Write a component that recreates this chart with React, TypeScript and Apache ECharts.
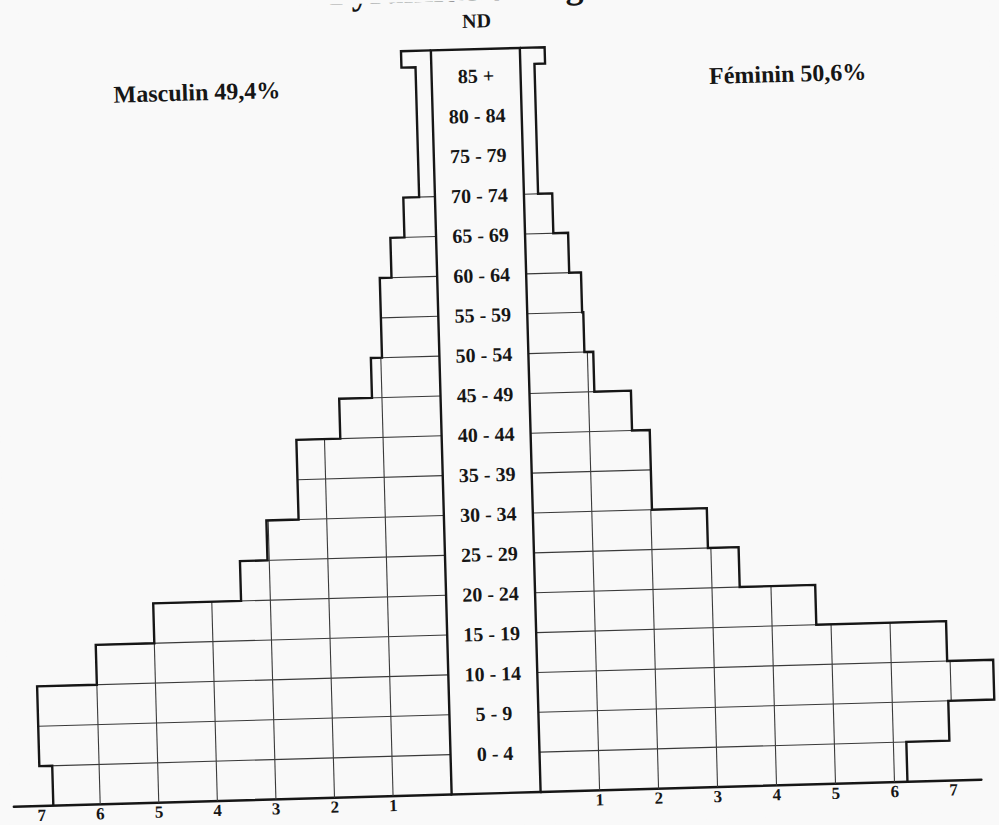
import React, { useEffect, useRef } from "react";
import * as echarts from "echarts";

// ---------- data (% of population) ----------
const ageGroups = [
  "0 - 4", "5 - 9", "10 - 14", "15 - 19", "20 - 24", "25 - 29", "30 - 34",
  "35 - 39", "40 - 44", "45 - 49", "50 - 54", "55 - 59", "60 - 64",
  "65 - 69", "70 - 74", "75 - 79", "80 - 84", "85 +",
];
const maleShare = [
  6.8, 7.02, 7.02, 6.0, 5.0, 3.5, 3.03, 2.48, 2.48, 1.73, 1.17, 0.98, 0.98,
  0.78, 0.54, 0.27, 0.27, 0.27,
];
const femaleShare = [
  6.22, 6.95, 7.73, 6.95, 4.75, 3.47, 2.95, 2.02, 2.02, 1.72, 1.1, 0.95, 0.93,
  0.73, 0.48, 0.24, 0.24, 0.24,
];
const capShare = [0.51, 0.42]; // [male, female] top cap of the pyramid
const tickValues = [1, 2, 3, 4, 5, 6, 7];
const titleText = "Pyramide des âges";
const regionText = "ND";
const sideTitles = ["Masculin 49,4%", "Féminin 50,6%"];

// ---------- layout ----------
const W = 999;
const H = 825;
const AXIS_Y = 793;
const ROW_H = 39.87;
const Y_MAX = 19;
const GRID_TOP = AXIS_Y - Y_MAX * ROW_H;
const LEFT_ZERO = 441;
const RIGHT_ZERO = 530;
const BAND_W = RIGHT_ZERO - LEFT_ZERO;
const UNIT = 59;
const SIDE_W = 441;
const SIDE_MAX = SIDE_W / UNIT;
const HAT_BASE = 18.26;
const HAT_TOP = 18.67;
const NO_LINE_FROM = 16; // no drawn boundaries between the three oldest rows

const BG = "#f9f9f9";
const INK = "#161616";
const INK_THIN = "#3a3a3a";
const THICK_W = 2.4;
const THIN_W = 1.1;
const FONT = "'Liberation Serif', 'Times New Roman', serif";

function rowTop(k: number, n: number) {
  return k === n - 1 ? HAT_BASE : k + 1;
}

function makeRowRenderer(values: number[]) {
  return (_params: any, api: any) => {
    const v = api.value(0) as number;
    const k = api.value(1) as number;
    const top = rowTop(k, values.length);
    const children: any[] = [];
    const seg = (a: number[], b: number[]) => ({
      type: "line",
      shape: { x1: a[0], y1: a[1], x2: b[0], y2: b[1] },
      style: { stroke: INK_THIN, lineWidth: THIN_W },
    });
    for (const t of tickValues) {
      if (t < v - 0.02) children.push(seg(api.coord([t, k]), api.coord([t, top])));
    }
    if (k > 0 && k < NO_LINE_FROM) {
      const w = Math.max(values[k - 1], v);
      children.push(seg(api.coord([0, k]), api.coord([w, k])));
    }
    return { type: "group", children };
  };
}

function makeOutlineRenderer(values: number[], cap: number) {
  return (_params: any, api: any) => {
    const pts: number[][] = [];
    values.forEach((v, k) => {
      pts.push(api.coord([v, k]));
      pts.push(api.coord([v, rowTop(k, values.length)]));
    });
    pts.push(api.coord([cap, HAT_BASE]));
    pts.push(api.coord([cap, HAT_TOP]));
    pts.push(api.coord([0, HAT_TOP]));
    return {
      type: "polyline",
      shape: { points: pts },
      style: { stroke: INK, lineWidth: THICK_W, fill: "none", lineJoin: "miter" },
    };
  };
}

function sideXAxis(gridIndex: number, inverse: boolean) {
  return {
    gridIndex,
    type: "value",
    inverse,
    min: 0,
    max: SIDE_MAX,
    interval: 1,
    axisLine: { show: true, lineStyle: { color: INK, width: THICK_W } },
    axisTick: { show: false },
    splitLine: { show: false },
    axisLabel: {
      formatter: (val: number) => (tickValues.includes(val) ? String(val) : ""),
      fontFamily: FONT,
      fontWeight: "bold",
      fontSize: 17,
      color: INK,
      margin: 1,
    },
  };
}

function sideYAxis(gridIndex: number) {
  return { gridIndex, type: "value", min: 0, max: Y_MAX, show: false };
}

const textEl = (text: string, x: number, y: number, size: number, align = "center") => ({
  type: "text",
  x,
  y,
  style: {
    text,
    fill: INK,
    font: `bold ${size}px ${FONT}`,
    align,
    verticalAlign: "middle",
  },
});

export default function App() {
  const ref = useRef<HTMLDivElement>(null);

  useEffect(() => {
    if (!ref.current) return;
    const chart = echarts.init(ref.current, undefined, { renderer: "svg" });
    const option: any = {
      animation: false,
      backgroundColor: BG,
      grid: [
        { left: 0, width: SIDE_W, top: GRID_TOP, height: Y_MAX * ROW_H },
        { left: RIGHT_ZERO, width: SIDE_W, top: GRID_TOP, height: Y_MAX * ROW_H },
        {
          left: LEFT_ZERO,
          width: BAND_W,
          top: AXIS_Y - 18 * ROW_H,
          height: 17 * ROW_H,
        },
      ],
      xAxis: [
        sideXAxis(0, true),
        sideXAxis(1, false),
        { gridIndex: 2, type: "value", min: 0, max: 1, show: false },
      ],
      yAxis: [
        sideYAxis(0),
        sideYAxis(1),
        {
          gridIndex: 2,
          type: "category",
          data: ageGroups,
          boundaryGap: false,
          axisLine: { show: false },
          axisTick: { show: false },
          splitLine: { show: false },
          axisLabel: {
            inside: true,
            interval: 0,
            margin: BAND_W / 2,
            align: "center",
            verticalAlign: "middle",
            fontFamily: FONT,
            fontWeight: "bold",
            fontSize: 20,
            color: INK,
          },
        },
      ],
      series: [
        {
          type: "custom",
          name: "Masculin",
          xAxisIndex: 0,
          yAxisIndex: 0,
          clip: false,
          encode: { x: 0, y: 1 },
          data: maleShare.map((v, k) => [v, k]),
          renderItem: makeRowRenderer(maleShare),
        },
        {
          type: "custom",
          name: "Féminin",
          xAxisIndex: 1,
          yAxisIndex: 1,
          clip: false,
          encode: { x: 0, y: 1 },
          data: femaleShare.map((v, k) => [v, k]),
          renderItem: makeRowRenderer(femaleShare),
        },
        {
          type: "custom",
          xAxisIndex: 0,
          yAxisIndex: 0,
          clip: false,
          z: 5,
          encode: { x: 0, y: 1 },
          data: [[0, 0]],
          renderItem: makeOutlineRenderer(maleShare, capShare[0]),
        },
        {
          type: "custom",
          xAxisIndex: 1,
          yAxisIndex: 1,
          clip: false,
          z: 5,
          encode: { x: 0, y: 1 },
          data: [[0, 0]],
          renderItem: makeOutlineRenderer(femaleShare, capShare[1]),
        },
      ],
      graphic: [
        {
          type: "rect",
          shape: {
            x: LEFT_ZERO,
            y: AXIS_Y - HAT_TOP * ROW_H,
            width: BAND_W,
            height: HAT_TOP * ROW_H,
          },
          style: { fill: "none", stroke: INK, lineWidth: THICK_W },
          z: 10,
        },
        textEl(titleText, 341, -12, 36, "left"),
        textEl(regionText, (LEFT_ZERO + RIGHT_ZERO) / 2 + 2, 20, 20),
        textEl(sideTitles[0], 206, 84, 24),
        textEl(sideTitles[1], 797, 82, 24),
      ],
    };
    chart.setOption(option);
    return () => chart.dispose();
  }, []);

  return (
    <div
      style={{
        position: "fixed",
        left: 0,
        top: 0,
        width: W,
        height: H,
        background: BG,
        overflow: "hidden",
      }}
    >
      <div
        ref={ref}
        style={{
          width: W,
          height: H,
          transform: "rotate(-1.6deg)",
          transformOrigin: "50% 50%",
        }}
      />
    </div>
  );
}
